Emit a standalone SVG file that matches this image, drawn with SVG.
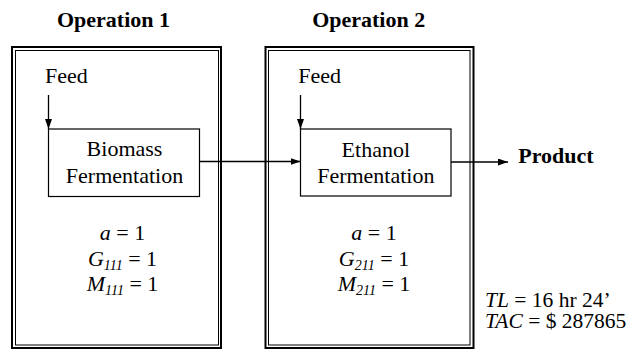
<svg xmlns="http://www.w3.org/2000/svg" width="635" height="349" viewBox="0 0 635 349">
<style>
text{font-family:"Liberation Serif","Times New Roman",serif;font-size:22px;fill:#000}
.b{font-weight:bold}
.i{font-style:italic}
.m{text-anchor:middle}
.r{font-size:21.5px}
.sub{font-size:14px;font-style:italic}
.fo{fill:none;stroke:#000;stroke-width:2}
.fi{fill:none;stroke:#000;stroke-width:1}
.nd{fill:#fff;stroke:#000;stroke-width:1.2}
.ln{fill:none;stroke:#000;stroke-width:1.3}
</style>
<defs>
<marker id="ah" markerWidth="10" markerHeight="7" refX="10" refY="3.5" orient="auto" markerUnits="userSpaceOnUse">
<path d="M0,0 L10,3.5 L0,7 Z" fill="#000"/>
</marker>
</defs>
<g id="operation1">
<rect class="fo" x="12" y="47" width="209" height="301"/>
<rect class="fi" x="15.5" y="50.5" width="203" height="294.5"/>
<text class="b m" x="113.5" y="26.5">Operation 1</text>
<text x="45" y="82.5">Feed</text>
<text class="i m" x="122.5" y="240">a<tspan font-style="normal"> = 1</tspan></text>
<text class="m" x="122.5" y="266"><tspan font-style="italic">G</tspan><tspan class="sub" dy="4">111</tspan><tspan dy="-4"> = 1</tspan></text>
<text class="m" x="122.5" y="290.5"><tspan font-style="italic">M</tspan><tspan class="sub" dy="4">111</tspan><tspan dy="-4"> = 1</tspan></text>
</g>
<g id="operation2">
<rect class="fo" x="265.5" y="47" width="208" height="301"/>
<rect class="fi" x="268.5" y="50.5" width="201.5" height="294.5"/>
<text class="b m" x="368.7" y="26.5">Operation 2</text>
<text x="298.3" y="82.5">Feed</text>
<text class="i m" x="374" y="240">a<tspan font-style="normal"> = 1</tspan></text>
<text class="m" x="374" y="266"><tspan font-style="italic">G</tspan><tspan class="sub" dy="4">211</tspan><tspan dy="-4"> = 1</tspan></text>
<text class="m" x="374" y="290.5"><tspan font-style="italic">M</tspan><tspan class="sub" dy="4">211</tspan><tspan dy="-4"> = 1</tspan></text>
</g>
<g id="biomass">
<rect class="nd" x="48.5" y="129" width="151" height="67.5"/>
<text class="m" x="124.5" y="156">Biomass</text>
<text class="m" x="124.5" y="182.5">Fermentation</text>
</g>
<g id="ethanol">
<rect class="nd" x="300.5" y="129" width="150.5" height="67"/>
<text class="m" x="375.8" y="156.5">Ethanol</text>
<text class="m" x="375.8" y="182.5">Fermentation</text>
</g>
<g id="product">
<text class="b" x="518.3" y="163">Product</text>
</g>
<g id="results">
<text class="r" x="485" y="306.5"><tspan font-style="italic">TL</tspan> = 16 hr 24’</text>
<text class="r" x="485" y="328"><tspan font-style="italic">TAC</tspan> = $ 287865</text>
</g>
<g id="connectors">
<line class="ln" x1="48.5" y1="95" x2="48.5" y2="129" marker-end="url(#ah)"/>
<line class="ln" x1="300.5" y1="95" x2="300.5" y2="129" marker-end="url(#ah)"/>
<line class="ln" x1="199.5" y1="161.5" x2="300.5" y2="161.5" marker-end="url(#ah)"/>
<line class="ln" x1="451" y1="162" x2="508" y2="162" marker-end="url(#ah)"/>
</g>
</svg>
